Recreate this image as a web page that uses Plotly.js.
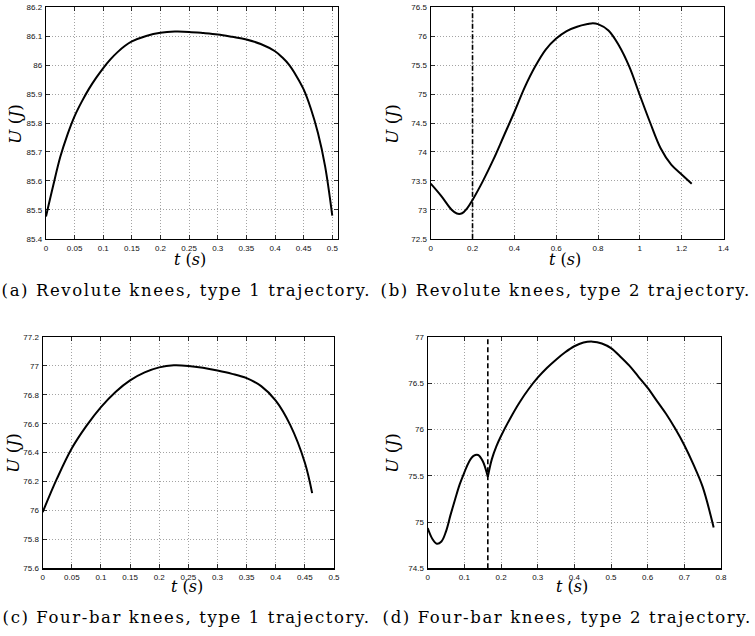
<!DOCTYPE html>
<html>
<head>
<meta charset="utf-8">
<script src="https://cdn.plot.ly/plotly-3.0.1.min.js"></script>
<style>
html,body{margin:0;padding:0;background:#fff;}
#chart{width:755px;height:636px;}
.annotation[data-index="8"] text, .annotation[data-index="9"] text,
.annotation[data-index="10"] text, .annotation[data-index="11"] text { letter-spacing: 1.6px; }
</style>
</head>
<body>
<div id="chart"></div>
<script>
// ---- data ----
var tA = [0, 0.0125, 0.025, 0.0375, 0.05, 0.0625, 0.075, 0.0875, 0.1, 0.1125, 0.125, 0.1375, 0.15, 0.175, 0.2, 0.225, 0.25, 0.275, 0.3, 0.325, 0.35, 0.375, 0.4, 0.4125, 0.425, 0.4375, 0.45, 0.4625, 0.475, 0.4875, 0.5];
var uA = [85.477, 85.583, 85.683, 85.76, 85.824, 85.874, 85.918, 85.956, 85.99, 86.02, 86.045, 86.066, 86.082, 86.101, 86.112, 86.116, 86.115, 86.111, 86.106, 86.098, 86.089, 86.073, 86.048, 86.027, 86.0, 85.962, 85.916, 85.85, 85.765, 85.65, 85.48];

var tB = [0, 0.05, 0.1, 0.125, 0.15, 0.175, 0.2, 0.25, 0.3, 0.35, 0.4, 0.45, 0.5, 0.55, 0.6, 0.65, 0.7, 0.75, 0.775, 0.8, 0.85, 0.9, 0.95, 1.0, 1.05, 1.1, 1.15, 1.2, 1.248];
var uB = [73.452, 73.24, 73.0, 72.935, 72.94, 73.03, 73.17, 73.5, 73.87, 74.28, 74.69, 75.12, 75.48, 75.77, 75.96, 76.09, 76.165, 76.21, 76.225, 76.21, 76.10, 75.84, 75.47, 74.98, 74.5, 74.06, 73.78, 73.61, 73.45];
var eventB = 0.2;

var tC = [0, 0.025, 0.05, 0.075, 0.1, 0.125, 0.15, 0.175, 0.2, 0.225, 0.25, 0.275, 0.3, 0.325, 0.35, 0.375, 0.4, 0.425, 0.45, 0.4625];
var uC = [75.989, 76.225, 76.43, 76.585, 76.715, 76.82, 76.9, 76.955, 76.99, 77.004, 77.0, 76.987, 76.968, 76.945, 76.915, 76.86, 76.76, 76.59, 76.33, 76.12];

var tD = [0, 0.0125, 0.025, 0.0375, 0.05, 0.0625, 0.075, 0.0875, 0.1, 0.1125, 0.125, 0.1375, 0.15, 0.164, 0.175, 0.1875, 0.2, 0.225, 0.25, 0.275, 0.3, 0.325, 0.35, 0.375, 0.4, 0.425, 0.45, 0.475, 0.5, 0.525, 0.55, 0.575, 0.6, 0.625, 0.65, 0.675, 0.7, 0.725, 0.75, 0.78];
var uD = [74.935, 74.82, 74.765, 74.79, 74.9, 75.08, 75.25, 75.41, 75.536, 75.65, 75.715, 75.725, 75.66, 75.49, 75.68, 75.82, 75.93, 76.12, 76.29, 76.435, 76.56, 76.665, 76.755, 76.835, 76.9, 76.94, 76.95, 76.93, 76.88, 76.79, 76.69, 76.57, 76.45, 76.31, 76.17, 76.01, 75.83, 75.62, 75.38, 74.94];
var eventD = 0.164;

var captions = ["(a) Revolute knees, type 1 trajectory.", "(b) Revolute knees, type 2 trajectory.",
                "(c) Four-bar knees, type 1 trajectory.", "(d) Four-bar knees, type 2 trajectory."];
var xLabel = "<i>t</i> (<i>s</i>)";
var yLabel = "<i>U</i> (<i>J</i>)";

// ---- layout helpers ----
var W = 755, H = 636;
function px(x){ return x / W; }
function py(y){ return 1 - y / H; }

var lineStyle = {color: '#000', width: 2, shape: 'spline', smoothing: 1};

// split D at the event (cusp) so the corner stays sharp
var tD1 = [], uD1 = [], tD2 = [], uD2 = [];
for (var i = 0; i < tD.length; i++) {
  if (tD[i] <= eventD) { tD1.push(tD[i]); uD1.push(uD[i]); }
  if (tD[i] >= eventD) { tD2.push(tD[i]); uD2.push(uD[i]); }
}

var data = [
  {x: tA, y: uA, xaxis: 'x', yaxis: 'y', mode: 'lines', line: lineStyle, hoverinfo: 'skip'},
  {x: tB, y: uB, xaxis: 'x2', yaxis: 'y2', mode: 'lines', line: lineStyle, hoverinfo: 'skip'},
  {x: tC, y: uC, xaxis: 'x3', yaxis: 'y3', mode: 'lines', line: lineStyle, hoverinfo: 'skip'},
  {x: tD1, y: uD1, xaxis: 'x4', yaxis: 'y4', mode: 'lines', line: lineStyle, hoverinfo: 'skip'},
  {x: tD2, y: uD2, xaxis: 'x4', yaxis: 'y4', mode: 'lines', line: lineStyle, hoverinfo: 'skip'}
];

var tickFont = {family: 'Liberation Sans, Arial, sans-serif', size: 8, color: '#111'};
function axis(domain, range, dtick, anchor) {
  return {
    domain: domain, range: range, dtick: dtick, tick0: 0, anchor: anchor,
    showgrid: true, gridcolor: '#8c8c8c', griddash: '1px,2px', gridwidth: 0.8,
    showline: true, mirror: 'ticks', linecolor: '#000', linewidth: 1.2,
    ticks: 'inside', ticklen: 4, tickcolor: '#000', tickwidth: 0.8,
    tickfont: tickFont, zeroline: false, fixedrange: true, ticklabelstandoff: 1
  };
}

var serif = 'DejaVu Serif, serif';
function ann(text, x, y, size, angle) {
  return {text: text, x: px(x), y: py(y), xref: 'paper', yref: 'paper', showarrow: false,
          xanchor: 'center', yanchor: 'middle', textangle: angle || 0,
          font: {family: serif, size: size, color: '#000'}};
}

var layout = {
  width: W, height: H, margin: {l: 0, r: 0, t: 0, b: 0},
  paper_bgcolor: '#fff', plot_bgcolor: '#fff', showlegend: false,
  xaxis:  axis([px(46), px(338)], [0, 0.51], 0.05, 'y'),
  yaxis:  axis([py(238.7), py(7.3)], [85.4, 86.2], 0.1, 'x'),
  xaxis2: axis([px(430.7), px(723.5)], [0, 1.4], 0.2, 'y2'),
  yaxis2: axis([py(238.7), py(7.3)], [72.5, 76.5], 0.5, 'x2'),
  xaxis3: axis([px(42.7), px(334)], [0, 0.5], 0.05, 'y3'),
  yaxis3: axis([py(568.3), py(337)], [75.6, 77.2], 0.2, 'x3'),
  xaxis4: axis([px(427.7), px(721)], [0, 0.8], 0.1, 'y4'),
  yaxis4: axis([py(568.3), py(337)], [74.5, 77], 0.5, 'x4'),
  shapes: [
    {type: 'line', xref: 'x2', yref: 'y2 domain', x0: eventB, x1: eventB, y0: 0, y1: 1,
     line: {color: '#000', width: 1.6, dash: '5px,2px,1.5px,2px'}},
    {type: 'line', xref: 'x4', yref: 'y4 domain', x0: eventD, x1: eventD, y0: 0, y1: 1,
     line: {color: '#000', width: 1.6, dash: '5px,3px'}}
  ],
  annotations: [
    ann(xLabel, 190, 259, 16), ann(xLabel, 565, 259, 16),
    ann(xLabel, 187, 586, 16), ann(xLabel, 572, 586, 16),
    ann(yLabel, 15, 124, 17, -90), ann(yLabel, 392, 124, 17, -90),
    ann(yLabel, 13, 453, 17, -90), ann(yLabel, 392, 453, 17, -90),
    ann(captions[0], 186.5, 290.5, 16.5), ann(captions[1], 565.5, 290.5, 16.5),
    ann(captions[2], 186, 617.5, 16.5), ann(captions[3], 567, 617.5, 16.5)
  ]
};

Plotly.newPlot('chart', data, layout, {staticPlot: true, displayModeBar: false});
</script>
</body>
</html>
